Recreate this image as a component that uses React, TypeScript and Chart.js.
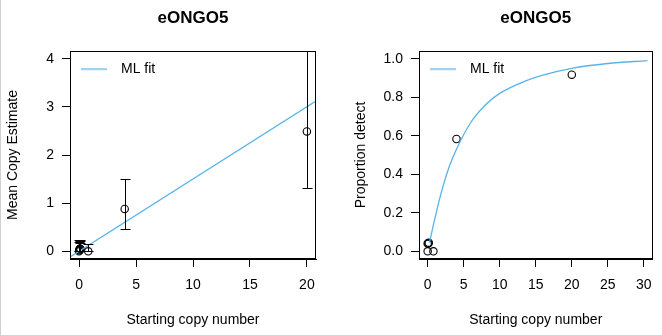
import React, { useEffect, useRef } from 'react';
import { Chart, registerables } from 'chart.js';

Chart.register(...registerables);

const TITLE = 'eONGO5';
const X_LABEL = 'Starting copy number';
const LEFT_Y_LABEL = 'Mean Copy Estimate';
const RIGHT_Y_LABEL = 'Proportion detect';
const FIT_LABEL = 'ML fit';

// Left panel: mean copy estimate with error bars
const leftX = [0, 0, 0.04, 0.08, 0.12, 0.8, 4, 20];
const leftY = [0, 0.02, 0.04, 0.06, 0.04, 0, 0.88, 2.49];
const leftLo = [0, 0, 0, 0, 0, 0, 0.46, 1.31];
const leftHi = [0.23, 0.2, 0.22, 0.24, 0.18, 0.16, 1.51, 4.5];
const leftFitX = [-1, 21];
const leftFitY = [-0.15, 3.15];
const leftXTicks = [0, 5, 10, 15, 20];
const leftYTicks = [0, 1, 2, 3, 4];

// Right panel: proportion detected
const rightX = [0, 0, 0.1, 0.15, 0.8, 4, 20];
const rightY = [0, 0.04, 0.04, 0.045, 0, 0.583, 0.917];
const rightFitX = [0.25, 1, 2, 3, 4, 6, 8, 10, 13.6, 16, 20, 25, 30.5];
const rightFitY = [0.045, 0.17, 0.32, 0.44, 0.53, 0.67, 0.76, 0.82, 0.885, 0.915, 0.95, 0.975, 0.99];
const rightXTicks = [0, 5, 10, 15, 20, 25, 30];
const rightYTicks = [0, 0.2, 0.4, 0.6, 0.8, 1.0];

const FIT_COLOR = '#56B4E9';
const FONT = "'Liberation Sans', Arial, Helvetica, sans-serif";

function toPoints(xs: number[], ys: number[]) {
  return xs.map((x, i) => ({ x, y: ys[i] }));
}

function makeBoxPlugin() {
  return {
    id: 'boxFrame',
    afterDatasetsDraw(chart: any) {
      const { ctx, chartArea: a } = chart;
      ctx.save();
      ctx.strokeStyle = '#000';
      ctx.lineWidth = 1;
      const l = Math.round(a.left) + 0.5;
      const t = Math.round(a.top) + 0.5;
      const r = Math.round(a.right) - 0.5;
      const b = Math.round(a.bottom) - 0.5;
      ctx.strokeRect(l, t, r - l, b - t);
      ctx.restore();
    },
  };
}

// keeps the legend inside the plot area, at its top-left corner
function makeLegendPlacePlugin() {
  return {
    id: 'legendPlace',
    afterLayout(chart: any) {
      const lg = chart.legend;
      if (!lg) return;
      const h = lg.height;
      lg.left = chart.chartArea.left;
      lg.top = chart.chartArea.top;
      lg.bottom = lg.top + h;
    },
  };
}

function makeErrorBarPlugin(xs: number[], lo: number[], hi: number[]) {
  return {
    id: 'errorBars',
    afterDatasetsDraw(chart: any) {
      const { ctx, chartArea: a, scales } = chart;
      const xs_ = scales.x;
      const ys_ = scales.y;
      ctx.save();
      ctx.beginPath();
      ctx.rect(a.left, a.top, a.right - a.left, a.bottom - a.top);
      ctx.clip();
      ctx.strokeStyle = '#000';
      ctx.lineWidth = 1;
      const cap = 5;
      xs.forEach((xv, i) => {
        const px = Math.round(xs_.getPixelForValue(xv)) + 0.5;
        const pl = Math.round(ys_.getPixelForValue(lo[i])) + 0.5;
        const ph = Math.round(ys_.getPixelForValue(hi[i])) + 0.5;
        ctx.beginPath();
        ctx.moveTo(px, pl);
        ctx.lineTo(px, ph);
        ctx.moveTo(px - cap, pl);
        ctx.lineTo(px + cap, pl);
        ctx.moveTo(px - cap, ph);
        ctx.lineTo(px + cap, ph);
        ctx.stroke();
      });
      ctx.restore();
    },
  };
}

function axis(min: number, max: number, tickVals: number[], title: string, isX: boolean, fmt: (v: number) => string, yWidth = 70) {
  return {
    type: 'linear',
    min,
    max,
    afterBuildTicks: (s: any) => {
      s.ticks = tickVals.map((v) => ({ value: v }));
    },
    afterFit: (s: any) => {
      if (isX) s.height = 76;
      else s.width = yWidth;
    },
    grid: {
      display: true,
      drawOnChartArea: false,
      drawTicks: true,
      tickLength: 8,
      color: '#000',
      lineWidth: 1,
    },
    border: { display: true, color: '#000', width: 1 },
    ticks: {
      color: '#000',
      font: { family: FONT, size: 14 },
      padding: isX ? 10 : 8,
      maxRotation: 0,
      minRotation: 0,
      autoSkip: false,
      callback: (v: any) => fmt(Number(v)),
    },
    title: {
      display: true,
      text: title,
      color: '#000',
      font: { family: FONT, size: 14 },
      padding: isX ? { top: 0, bottom: 6.6 } : { top: 5, bottom: 0 },
    },
  };
}

function legendLineImage() {
  const c = document.createElement('canvas');
  c.width = 33;
  c.height = 3;
  const g = c.getContext('2d')!;
  g.strokeStyle = FIT_COLOR;
  g.lineWidth = 1.3;
  g.beginPath();
  g.moveTo(0, 1.5);
  g.lineTo(26, 1.5);
  g.stroke();
  return c;
}

function buildConfig(opts: {
  fitX: number[]; fitY: number[]; px: number[]; py: number[];
  xMin: number; xMax: number; yMin: number; yMax: number;
  xTicks: number[]; yTicks: number[]; yTitle: string;
  yFmt: (v: number) => string; padLeft: number; padRight: number; yWidth: number;
  smooth: boolean; plugins: any[];
}) {
  return {
    type: 'scatter',
    data: {
      datasets: [
        {
          label: FIT_LABEL,
          data: toPoints(opts.fitX, opts.fitY),
          showLine: true,
          borderColor: FIT_COLOR,
          backgroundColor: FIT_COLOR,
          borderWidth: 1.3,
          pointRadius: 0,
          cubicInterpolationMode: opts.smooth ? 'monotone' : 'default',
          tension: 0,
        },
        {
          label: 'data',
          data: toPoints(opts.px, opts.py),
          showLine: false,
          pointRadius: 3.7,
          pointBorderWidth: 1.1,
          pointBorderColor: '#000',
          pointBackgroundColor: 'rgba(0,0,0,0)',
          borderColor: '#000',
          backgroundColor: 'rgba(0,0,0,0)',
        },
      ],
    },
    options: {
      animation: false,
      responsive: false,
      events: [],
      layout: { padding: { left: opts.padLeft, right: opts.padRight, top: 0, bottom: 0 } },
      scales: {
        x: axis(opts.xMin, opts.xMax, opts.xTicks, X_LABEL, true, (v) => String(v)),
        y: axis(opts.yMin, opts.yMax, opts.yTicks, opts.yTitle, false, opts.yFmt, opts.yWidth),
      },
      plugins: {
        tooltip: { enabled: false },
        title: {
          display: true,
          text: TITLE,
          fullSize: false,
          color: '#000',
          font: { family: FONT, size: 17, weight: 'bold' },
          padding: { top: 8, bottom: 22.6 },
        },
        legend: {
          display: true,
          position: 'chartArea',
          align: 'start',
          labels: {
            filter: (item: any) => item.text === FIT_LABEL,
            usePointStyle: true,
            pointStyle: legendLineImage(),
            pointStyleWidth: 33,
            color: '#000',
            font: { family: FONT, size: 14 },
            padding: 11,
          },
        },
      },
    },
    plugins: opts.plugins,
  };
}

export default function App() {
  const leftRef = useRef<HTMLCanvasElement>(null);
  const rightRef = useRef<HTMLCanvasElement>(null);

  useEffect(() => {
    const left = new Chart(leftRef.current!, buildConfig({
      fitX: leftFitX, fitY: leftFitY, px: leftX, py: leftY,
      xMin: -0.8, xMax: 20.8, yMin: -0.16, yMax: 4.16,
      xTicks: leftXTicks, yTicks: leftYTicks, yTitle: LEFT_Y_LABEL,
      yFmt: (v) => String(v), padLeft: 0, padRight: 15, yWidth: 70,
      smooth: false,
      plugins: [makeLegendPlacePlugin(), makeErrorBarPlugin(leftX, leftLo, leftHi), makeBoxPlugin()],
    }) as any);
    const right = new Chart(rightRef.current!, buildConfig({
      fitX: rightFitX, fitY: rightFitY, px: rightX, py: rightY,
      xMin: -1.2, xMax: 31.2, yMin: -0.04, yMax: 1.04,
      xTicks: rightXTicks, yTicks: rightYTicks, yTitle: RIGHT_Y_LABEL,
      yFmt: (v) => v.toFixed(1), padLeft: 17, padRight: 1, yWidth: 71,
      smooth: true,
      plugins: [makeLegendPlacePlugin(), makeBoxPlugin()],
    }) as any);
    return () => {
      left.destroy();
      right.destroy();
    };
  }, []);

  return (
    <div style={{ position: 'fixed', left: 0, top: 0, width: 662, height: 335, background: '#fff', overflow: 'hidden' }}>
      <div style={{ position: 'absolute', left: 0, top: 0, width: 1, height: 335, background: '#d0d0d0' }} />
      <canvas ref={leftRef} width={331} height={335} style={{ position: 'absolute', left: 0, top: 0, width: 331, height: 335 }} />
      <canvas ref={rightRef} width={331} height={335} style={{ position: 'absolute', left: 331, top: 0, width: 331, height: 335 }} />
    </div>
  );
}
